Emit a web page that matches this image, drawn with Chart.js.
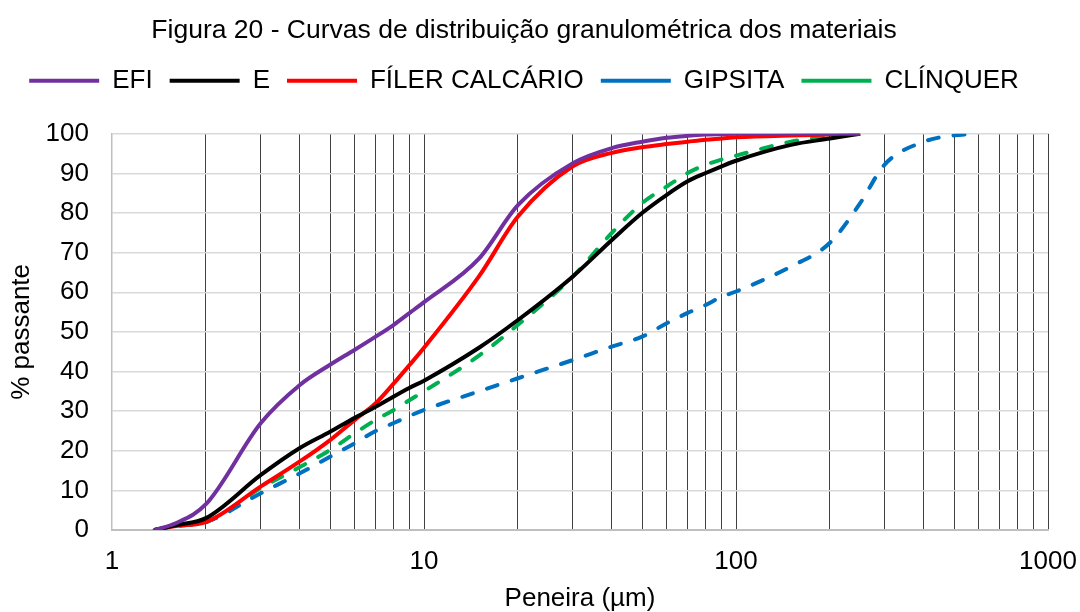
<!DOCTYPE html>
<html lang="pt-BR">
<head>
    <meta charset="UTF-8">
    <title>Curvas de distribuição granulométrica</title>
    <script src="https://cdn.jsdelivr.net/npm/chart.js"></script>
    <style>
        html, body { margin: 0; padding: 0; background: #fff; }
        #wrap { width: 1080px; height: 612px; }
    </style>
</head>
<body>
    <div id="wrap"><canvas id="grafico"></canvas></div>

    <script>
        // abertura da peneira (µm) e % passante de cada material
        const peneira = [1.37, 1.6, 2, 3, 4, 5, 6, 7, 8, 9, 10, 15, 20, 30, 40, 50, 60, 70, 80, 90, 100, 150, 200, 250];
        const efi      = [0, 1.7, 6.5, 27, 36.6, 41.7, 45.5, 48.8, 51.8, 54.8, 57.5, 68.5, 82, 92.6, 96.4, 98, 99, 99.5, 99.8, 99.9, 100, 100, 100, 100];
        const e        = [0, 1.2, 3, 13.9, 20.7, 24.8, 28.3, 31.1, 33.7, 35.9, 37.7, 46, 53, 64, 73.2, 80, 84.6, 88, 90.1, 91.8, 93.2, 97.2, 98.8, 100];
        const filer    = [0, 1, 2, 11, 17.3, 22.7, 27.8, 32, 37, 41.7, 46, 64, 79.1, 91.8, 95.2, 96.6, 97.4, 98, 98.5, 98.8, 99.1, 99.6, 99.8, 100];
        const clinquer = [0, 1, 2, 10.6, 15.9, 20.2, 24.4, 27.8, 30.3, 32.8, 35, 44, 51.8, 64, 75, 82.5, 86.7, 90.1, 92.2, 93.5, 94.5, 98, 99.4, 100];

        // a gipsita vai até 600 µm
        const peneiraGipsita = [1.37, 1.6, 2, 3, 4, 5, 6, 7, 8, 9, 10, 15, 20, 30, 40, 50, 60, 70, 80, 90, 100, 150, 200, 250, 300, 400, 500, 600];
        const gipsita  = [0, 1, 2, 9.3, 14.3, 18.5, 21.9, 25, 27, 28.8, 30.3, 35, 38.3, 42.9, 46.3, 48.8, 52.2, 54.8, 56.8, 58.9, 60.2, 66.5, 72.5, 82.5, 92.3, 98, 99.6, 100];

        // linhas verticais da escala log
        const ticksPeneira = [1, 2, 3, 4, 5, 6, 7, 8, 9, 10, 20, 30, 40, 50, 60, 70, 80, 90, 100,
                              200, 300, 400, 500, 600, 700, 800, 900, 1000];

        const fonte = "'Liberation Sans', Arial, sans-serif";
        Chart.defaults.font.family = fonte;
        Chart.defaults.color = '#000';

        function pontos(xs, ys) {
            return xs.map((x, i) => ({ x: x, y: ys[i] }));
        }

        function serie(label, xs, ys, cor, tracejado) {
            return {
                label: label,
                data: pontos(xs, ys),
                borderColor: cor,
                backgroundColor: cor,
                borderWidth: 4,
                borderDash: tracejado ? [11, 15] : [],
                borderCapStyle: tracejado ? 'round' : 'butt',
                pointRadius: 0,
                cubicInterpolationMode: 'monotone',
                fill: false
            };
        }

        const ctx = document.getElementById('grafico').getContext('2d');
        const chart = new Chart(ctx, {
            type: 'line',
            data: {
                datasets: [
                    serie('EFI', peneira, efi, '#7030A0', false),
                    serie('E', peneira, e, '#000000', false),
                    serie('FÍLER CALCÁRIO', peneira, filer, '#FF0000', false),
                    serie('GIPSITA', peneiraGipsita, gipsita, '#0070C0', true),
                    serie('CLÍNQUER', peneira, clinquer, '#00B050', true)
                ]
            },
            options: {
                responsive: true,
                maintainAspectRatio: false,
                animation: false,
                devicePixelRatio: 1,
                layout: { padding: { left: 0, right: 32, top: 0, bottom: 0 } },
                plugins: {
                    title: {
                        display: true,
                        text: 'Figura 20 - Curvas de distribuição granulométrica dos materiais',
                        font: { size: 26.5, weight: 'normal' },
                        color: '#000',
                        padding: { top: 15, bottom: 4 }
                    },
                    // espaço entre a legenda e a área do gráfico
                    subtitle: {
                        display: true,
                        text: '',
                        weight: 500,
                        font: { size: 1, lineHeight: 1 },
                        padding: { top: 29, bottom: 0 }
                    },
                    legend: {
                        position: 'top',
                        labels: {
                            usePointStyle: true,
                            pointStyle: 'line',
                            pointStyleWidth: 70,
                            padding: 17,
                            font: { size: 26 },
                            color: '#000'
                        }
                    },
                    tooltip: { enabled: false }
                },
                scales: {
                    x: {
                        type: 'logarithmic',
                        min: 1,
                        max: 1000,
                        afterBuildTicks: (scale) => {
                            scale.ticks = ticksPeneira.map(v => ({ value: v }));
                        },
                        afterFit: (scale) => {
                            scale.height = 82;
                            scale.paddingLeft = 0;
                            scale.paddingRight = 0;
                        },
                        ticks: {
                            autoSkip: false,
                            maxRotation: 0,
                            minRotation: 0,
                            padding: 16,
                            font: { size: 26 },
                            callback: (v) => (Math.log10(v) % 1 === 0 ? String(v) : '')
                        },
                        grid: {
                            drawTicks: false,
                            lineWidth: 1,
                            color: (c) => (c.tick && c.tick.value === 1 ? 'rgba(0,0,0,0)' : '#404040')
                        },
                        border: { color: '#BFBFBF', width: 2 },
                        title: {
                            display: true,
                            text: 'Peneira (µm)',
                            font: { size: 26, lineHeight: 1 },
                            padding: { top: 0, bottom: 0 }
                        }
                    },
                    y: {
                        min: 0,
                        max: 100,
                        afterFit: (scale) => { scale.width = 112; },
                        ticks: {
                            stepSize: 10,
                            padding: 23,
                            font: { size: 26 }
                        },
                        grid: {
                            drawTicks: false,
                            color: '#D9D9D9',
                            lineWidth: 1.5
                        },
                        border: { color: '#BFBFBF', width: 1.5 },
                        title: {
                            display: true,
                            text: '% passante',
                            font: { size: 26, lineHeight: 1 },
                            padding: { top: 9, bottom: 0 }
                        }
                    }
                }
            }
        });
    </script>
</body>
</html>
